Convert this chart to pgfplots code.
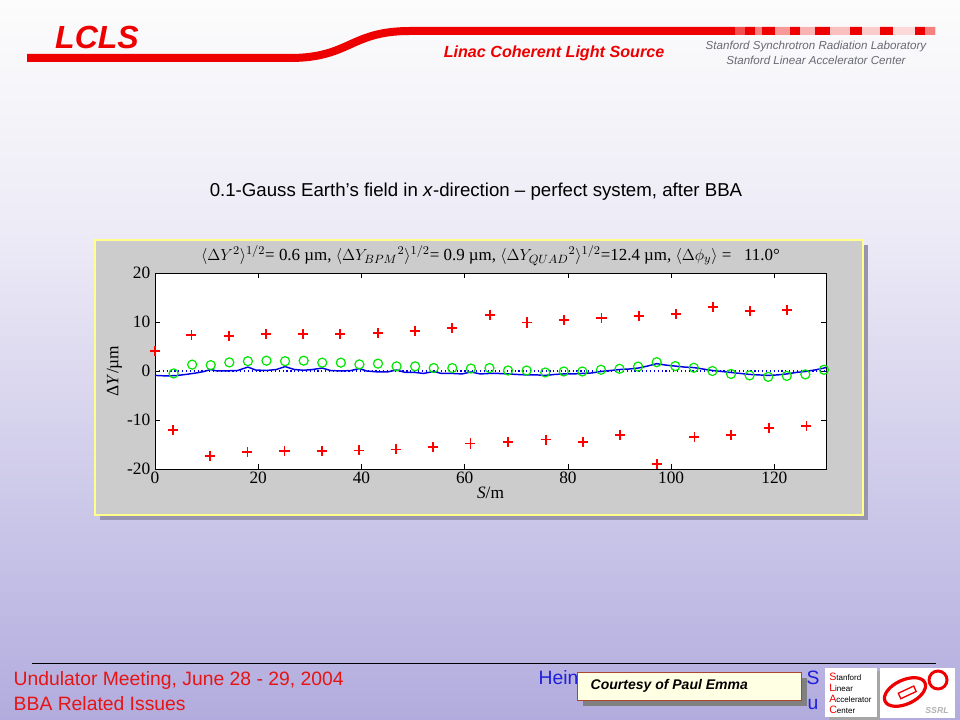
\documentclass[border=0pt]{standalone}
\usepackage{pgfplots}
\pgfplotsset{compat=1.18}
\usepackage{fontspec}
\setmainfont{Liberation Serif}
\newfontfamily\arial{Liberation Sans}
\definecolor{lcred}{RGB}{238,0,0}
\definecolor{bglav}{RGB}{178,172,222}
\definecolor{bgmid}{RGB}{236,234,246}
\definecolor{panelgray}{RGB}{204,204,204}
\definecolor{panelborder}{RGB}{255,255,140}
\definecolor{shadowc}{RGB}{150,148,175}
\definecolor{graytxt}{RGB}{105,105,115}
\definecolor{footred}{RGB}{230,20,20}
\definecolor{footblue}{RGB}{30,30,220}
\definecolor{mkred}{RGB}{255,0,0}
\definecolor{mkgreen}{RGB}{0,230,0}
\definecolor{lnblue}{RGB}{0,0,230}
\begin{document}
\begin{tikzpicture}
\begin{scope}[x=0.75pt,y=0.75pt]
% background
\shade[top color=bgmid, bottom color=bglav] (0,0) rectangle (960,480);
\shade[top color={rgb,255:red,252;green,252;blue,252}, bottom color=bgmid] (0,480) rectangle (960,720);
% header swoosh
\draw[lcred, line width=6pt] (27,662) -- (290,662) .. controls (350,662) and (350,689) .. (410,689) -- (935,689);
\foreach \a/\b/\o in {735/745/0.3, 755/762/0.5, 775/790/0.6, 800/815/0.7, 830/850/0.75, 862/880/0.8, 893/915/0.85, 925/935/0.5}{
  \fill[white,opacity=\o] (\a,684.5) rectangle (\b,693.5);
}
\node[text=lcred, font=\arial\bfseries\itshape\fontsize{24}{24}\selectfont] at (97,683) {LCLS};
\node[text=lcred, font=\arial\bfseries\itshape\fontsize{12.1}{14}\selectfont] at (554,667) {Linac Coherent Light Source};
\node[text=graytxt, font=\arial\itshape\fontsize{8.7}{10}\selectfont] at (816,673) {Stanford Synchrotron Radiation Laboratory};
\node[text=graytxt, font=\arial\itshape\fontsize{8.7}{10}\selectfont] at (816,660) {Stanford Linear Accelerator Center};
% title
\node[font=\arial\fontsize{14}{16}\selectfont] at (476,528) {0.1-Gauss Earth’s field in \textit{x}-direction – perfect system, after BBA};
% panel
\fill[shadowc] (100,200) rectangle (868,475);
\fill[panelgray, draw=panelborder, line width=1pt] (95,205) rectangle (863,480);
% footer
\draw[black, line width=0.7pt] (32,57) -- (936,57);
\node[anchor=west, text=footred, font=\arial\fontsize{14.5}{16}\selectfont] at (9,39) {Undulator Meeting, June 28 - 29, 2004};
\node[anchor=west, text=footred, font=\arial\fontsize{14.5}{16}\selectfont] at (9,16) {BBA Related Issues};
\node[anchor=west, text=footblue, font=\arial\fontsize{14.5}{16}\selectfont] at (534,42) {Hein};
\node[anchor=west, text=footblue, font=\arial\fontsize{14.5}{16}\selectfont] at (802,42) {S};
\node[anchor=west, text=footblue, font=\arial\fontsize{14.5}{16}\selectfont] at (803,16) {u};
% courtesy box
\fill[gray] (583,14) rectangle (807,42);
\filldraw[fill={rgb,255:red,255;green,255;blue,228}, draw={rgb,255:red,170;green,70;blue,50}, line width=0.6pt] (577,20) rectangle (801,48);
\node[anchor=west, font=\arial\bfseries\itshape\fontsize{10.5}{12}\selectfont] at (586,34) {Courtesy of Paul Emma};
% SLAC logo
\fill[gray!70] (829,0) rectangle (880,49);
\fill[white] (825,3) rectangle (877,52);
\foreach \yy/\fl/\rest in {43/S/tanford, 32/L/inear, 21/A/ccelerator, 10/C/enter}{
  \node[anchor=west, inner sep=0pt, font=\arial\fontsize{6}{6}\selectfont] at (829,\yy) {\textcolor{lcred}{\fontsize{8}{8}\selectfont\fl}\rest};
}
% SSRL logo
\fill[white] (880,2) rectangle (955,52);
\draw[lcred, line width=2.4pt, rotate around={25:(905,28)}] (905,28) ellipse (22 and 12);
\draw[lcred, line width=2.2pt] (938,40) circle (9);
\draw[lcred, line width=1pt, fill=white, rotate around={25:(910,30)}] (898,26) rectangle (915,32);
\node[text=gray!60, font=\arial\bfseries\itshape\fontsize{6.5}{7}\selectfont] at (937,9) {SSRL};
\end{scope}

\begin{axis}[
  at={(116.25pt,188.25pt)}, anchor=south west,
  scale only axis, width=503.25pt, height=147pt,
  xmin=0, xmax=130, ymin=-20, ymax=20,
  xtick={0,20,40,60,80,100,120},
  ytick={-20,-10,0,10,20},
  yticklabels={-20,-10,0,10,20},
  tick align=inside, major tick length=4pt,
  axis background/.style={fill=white},
  axis line style={line width=0.6pt},
  tick style={black, line width=0.6pt},
  /pgf/number format/assume math mode=true,
  tick label style={font=\fontsize{13}{15}\selectfont},
  xticklabel style={yshift=1pt},
  xlabel={\textit{S}/m},
  ylabel={Δ\textit{Y}/µm},
  label style={font=\fontsize{13}{15}\selectfont},
  xlabel style={yshift=5pt},
  ylabel style={yshift=-3pt},
  title={$\langle\Delta Y^{2}\rangle^{1/2}$= 0.6 µm, $\langle\Delta Y_{BPM}{}^{2}\rangle^{1/2}$= 0.9 µm, $\langle\Delta Y_{QUAD}{}^{2}\rangle^{1/2}$=12.4 µm, $\langle\Delta \phi_{y}\rangle$ = \ \ 11.0°},
  title style={font=\fontsize{12.7}{14}\selectfont, yshift=-4pt},
  clip=false,
]
% zero reference (dotted)
\addplot[lnblue, dotted, line width=0.9pt] coordinates {(0,0) (130,0)};
% trajectory
\addplot[lnblue, line width=1.1pt] coordinates {
(0,-0.9) (2,-1.0) (4,-0.95) (6,-0.7) (8,-0.4) (9.5,-0.1) (10.8,0.3) (12,0.0) (14.4,0.05) (16,0.1)
(18,0.8) (19.5,0.2) (21.6,0.1) (23.5,0.3) (25.2,0.9) (27,0.3) (28.8,0.15) (30.5,0.3) (32.4,0.6) (34,0.1)
(36,0.0) (38,0.1) (39.6,0.5) (41,0.0) (43.2,-0.2) (45,-0.2) (46.8,0.2) (48.5,-0.3) (50.4,-0.3) (52,-0.5)
(54,-0.1) (55.5,-0.5) (57.6,-0.5) (59.5,-0.6) (61.2,-0.2) (63,-0.6) (64.8,-0.5) (66.5,-0.5) (68.4,-0.6) (70,-0.7)
(72,-0.8) (74,-0.8) (75.6,-0.9) (77.5,-0.7) (79.2,-0.6) (81,-0.6) (82.8,-0.5) (84.6,-0.4) (86.4,-0.1) (88.2,0.1)
(90,0.3) (91.8,0.4) (93.6,0.6) (95.4,1.0) (97.2,1.5) (99,1.2) (100.8,1.0) (102.6,0.8) (104.4,0.7) (106.2,0.4)
(108,0.1) (109.8,-0.1) (111.6,-0.3) (113.4,-0.5) (115.2,-0.7) (117,-0.8) (118.8,-0.9) (120.6,-0.8) (122.4,-0.6) (124.2,-0.3)
(126,-0.1) (127.8,0.2) (129.6,0.6) (130,0.7)
};
% BPM readings
\addplot[only marks, mark=o, mark size=3.4pt, mkgreen, line width=0.9pt] coordinates {
(3.6,-0.5) (7.2,1.3) (10.8,1.2) (14.4,1.75) (18.0,2.0) (21.6,2.1) (25.2,2.0) (28.8,2.1) (32.4,1.7) (36.0,1.7)
(39.6,1.35) (43.2,1.5) (46.8,0.95) (50.4,0.95) (54.0,0.6) (57.6,0.6) (61.2,0.5) (64.8,0.6) (68.4,0.1) (72.0,0.1)
(75.6,-0.3) (79.2,-0.1) (82.8,-0.1) (86.4,0.25) (90.0,0.45) (93.6,0.9) (97.2,1.8) (100.8,1.0) (104.4,0.65) (108.0,0.0)
(111.6,-0.6) (115.2,-0.9) (118.8,-1.2) (122.4,-1.0) (126.0,-0.7) (129.6,0.25)
};
% quad offsets (upper)
\addplot[only marks, mark=+, mark size=3.8pt, mkred, line width=1.3pt] coordinates {
(0,4.1) (7.05,7.3) (14.3,7.2) (21.5,7.5) (28.7,7.5) (35.9,7.5) (43.2,7.7) (50.4,8.1) (57.6,8.7)
(64.9,11.5) (72.1,9.9) (79.3,10.4) (86.5,10.75) (93.7,11.2) (100.9,11.6) (108.1,13.0) (115.3,12.3) (122.5,12.5)
};
% quad offsets (lower)
\addplot[only marks, mark=+, mark size=3.8pt, mkred, line width=1.3pt] coordinates {
(3.5,-12.0) (10.7,-17.3) (17.9,-16.6) (25.1,-16.3) (32.3,-16.3) (39.5,-16.2) (46.7,-16.0) (53.9,-15.5) (61.1,-14.8)
(68.4,-14.45) (75.7,-14.0) (82.9,-14.45) (90.1,-13.0) (97.3,-19.0) (104.5,-13.4) (111.6,-13.0) (118.9,-11.7) (126.2,-11.3)
};
\end{axis}
\end{tikzpicture}
\end{document}
